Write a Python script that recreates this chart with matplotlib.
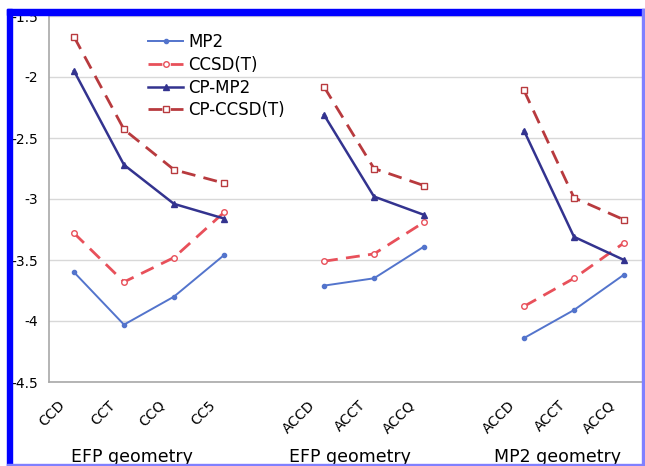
import matplotlib
matplotlib.use('Agg')
import matplotlib.pyplot as plt
import matplotlib.transforms as mtransforms
from matplotlib.patches import Rectangle
import numpy as np

# category axis, '' = empty slot between the groups
categories = ['CCD', 'CCT', 'CCQ', 'CC5', '', 'ACCD', 'ACCT', 'ACCQ', '',
              'ACCD', 'ACCT', 'ACCQ']
groups = ['EFP geometry', 'EFP geometry', 'MP2 geometry']
group_pos = [1.16, 5.52, 9.66]

mp2 = [-3.60, -4.03, -3.80, -3.46, None, -3.71, -3.65, -3.39, None,
       -4.14, -3.91, -3.62]
ccsdt = [-3.28, -3.68, -3.48, -3.11, None, -3.51, -3.45, -3.19, None,
         -3.88, -3.65, -3.36]
cp_mp2 = [-1.95, -2.72, -3.04, -3.16, None, -2.31, -2.98, -3.13, None,
          -2.44, -3.31, -3.50]
cp_ccsdt = [-1.67, -2.43, -2.76, -2.87, None, -2.08, -2.75, -2.89, None,
            -2.11, -2.99, -3.17]


def arr(v):
    return np.array([np.nan if a is None else a for a in v], dtype=float)


fig = plt.figure(figsize=(6.45, 4.66), dpi=100)
ax = fig.add_axes([49/645, 84/466, 1 - 49/645, 366/466])

x = np.arange(len(categories))
ax.plot(x, arr(mp2), color='#5374cc', lw=1.4, marker='o', ms=3,
        label='MP2')
ax.plot(x, arr(ccsdt), color='#e8505a', lw=2, dashes=(5, 3), marker='o',
        ms=4, mfc='white', mew=1, label='CCSD(T)')
ax.plot(x, arr(cp_mp2), color='#33338f', lw=1.8, marker='^', ms=4,
        label='CP-MP2')
ax.plot(x, arr(cp_ccsdt), color='#b83a3e', lw=2, dashes=(5, 3), marker='s',
        ms=4, mfc='white', mew=1, label='CP-CCSD(T)')

ax.set_xlim(-0.5, 11.42)
ax.set_ylim(-4.5, -1.5)
ax.set_yticks(np.arange(-4.5, -1.49, 0.5))
ax.set_yticklabels(['-4.5', '-4', '-3.5', '-3', '-2.5', '-2', '-1.5'],
                   fontsize=10)
ax.set_xticks(x)
ax.set_xticklabels([])
ax.tick_params(axis='both', length=0)
ax.tick_params(axis='y', pad=8)
ax.grid(True, axis='y', color='#d8d8d8', lw=1)
ax.set_axisbelow(True)
for s in ['top', 'right']:
    ax.spines[s].set_visible(False)
for s in ['left', 'bottom']:
    ax.spines[s].set_color('#a8a8a8')
    ax.spines[s].set_linewidth(1.2)

# rotated category labels, drawn slightly left of their slot
shift = mtransforms.ScaledTranslation(-16/100, -16/100, fig.dpi_scale_trans)
for xi, c in zip(x, categories):
    ax.text(xi, 0, c, transform=ax.get_xaxis_transform() + shift,
            rotation=45, ha='right', va='top', rotation_mode='anchor',
            fontsize=10)

trans = mtransforms.blended_transform_factory(ax.transData, fig.transFigure)
for g, p in zip(groups, group_pos):
    ax.text(p, 9/466, g, transform=trans, ha='center', va='center',
            fontsize=12.5)

ax.legend(loc='upper left', bbox_to_anchor=(140/645, 1 - 25/466),
          bbox_transform=fig.transFigure, frameon=False, fontsize=12,
          handlelength=2.1, handletextpad=0.3, labelspacing=0.28,
          borderpad=0)

# blue frame of the original screenshot
fig.add_artist(Rectangle((7/645, 451/466), 638/645, 6/466,
                         transform=fig.transFigure, color='#0000ff',
                         zorder=10))
fig.add_artist(Rectangle((7/645, 0), 5/645, 457/466,
                         transform=fig.transFigure, color='#0000ff',
                         zorder=10))
fig.add_artist(Rectangle((642/645, 0), 2/645, 457/466,
                         transform=fig.transFigure, color='#8080ff',
                         zorder=10))
fig.add_artist(Rectangle((7/645, 1/466), 638/645, 1.5/466,
                         transform=fig.transFigure, color='#8080ff',
                         zorder=10))

fig.savefig('out.png', dpi=100)
